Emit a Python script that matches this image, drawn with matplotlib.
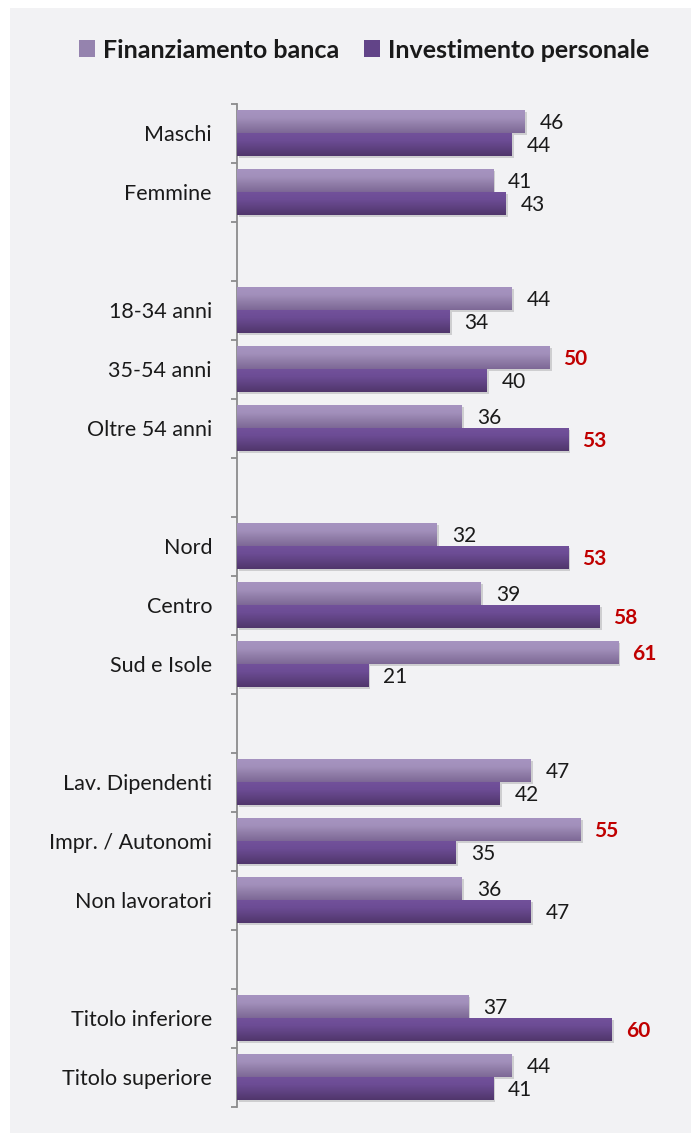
import numpy as np
import matplotlib
matplotlib.use("Agg")
import matplotlib.pyplot as plt
from matplotlib.colors import LinearSegmentedColormap
from matplotlib.patches import Rectangle
import matplotlib.patheffects as pe

plt.rcParams['font.family'] = ['Lato', 'DejaVu Sans']

# data
groups = [["Maschi", "Femmine"],
          ["18-34 anni", "35-54 anni", "Oltre 54 anni"],
          ["Nord", "Centro", "Sud e Isole"],
          ["Lav. Dipendenti", "Impr. / Autonomi", "Non lavoratori"],
          ["Titolo inferiore", "Titolo superiore"]]
banca = [46, 41, 44, 50, 36, 32, 39, 61, 47, 55, 36, 37, 44]
personale = [44, 43, 34, 40, 53, 53, 58, 21, 42, 35, 47, 60, 41]
series_names = ["Finanziamento banca", "Investimento personale"]

# slot positions, one empty slot between groups
labels = []
pos = []
k = 0
for g in groups:
    for name in g:
        labels.append(name)
        pos.append(k)
        k += 1
    k += 1
pos = np.array(pos)
last = pos[-1]

W, H = 691, 1133
fig = plt.figure(figsize=(W / 100, H / 100), dpi=100)
fig.patch.set_facecolor("#F2F2F4")
# white strips top and left
fig.patches.append(Rectangle((0, 1 - 8 / H), 1, 8 / H, transform=fig.transFigure,
                             facecolor="white", edgecolor="none", zorder=-5))
fig.patches.append(Rectangle((0, 0), 10 / W, 1, transform=fig.transFigure,
                             facecolor="white", edgecolor="none", zorder=-5))

ax_l, ax_r = 237, 650
ax_top, ax_bot = 103.5, 1106.5
ax = fig.add_axes([ax_l / W, (H - ax_bot) / H, (ax_r - ax_l) / W, (ax_bot - ax_top) / H])
ax.set_facecolor("none")

pxu = 6.25
xmax = (ax_r - ax_l) / pxu
bh = 23 / 59.0

light_cols = ["#A693C0", "#A290BB", "#8F7CA7", "#7D6896"]
dark_cols = ["#72519B", "#6C4C94", "#5E4180", "#50366B"]
cm_light = LinearSegmentedColormap.from_list("l", light_cols)
cm_dark = LinearSegmentedColormap.from_list("d", dark_cols)
grad = np.linspace(0, 1, 64).reshape(-1, 1)

shadow = [pe.SimplePatchShadow(offset=(1.5, -1.5), shadow_rgbFace="#666666", alpha=0.25), pe.Normal()]
b1 = ax.barh(pos - bh / 2, banca, height=bh, color=light_cols[1], edgecolor="none",
             label=series_names[0], zorder=2, path_effects=shadow)
b2 = ax.barh(pos + bh / 2, personale, height=bh, color=dark_cols[1], edgecolor="none",
             label=series_names[1], zorder=2, path_effects=shadow)

for bars, cm in [(b1, cm_light), (b2, cm_dark)]:
    for r in bars:
        x0, y0, w, h = r.get_x(), r.get_y(), r.get_width(), r.get_height()
        ax.imshow(grad, cmap=cm, aspect="auto", extent=[x0, x0 + w, y0 + h, y0],
                  zorder=3, interpolation="bilinear")

for vals, off in [(banca, -bh / 2 + 0.03), (personale, bh / 2 + 0.03)]:
    for p, v in zip(pos, vals):
        if v >= 50:
            ax.text(v + 2.2, p + off, str(v), color="#C00000", fontweight="bold",
                    fontsize=15, va="center", ha="left", zorder=4)
        else:
            ax.text(v + 2.4, p + off, str(v), color="#1A1A1A",
                    fontsize=15, va="center", ha="left", zorder=4)

ax.set_xlim(0, xmax)
ax.set_ylim(last + 0.5, -0.5)

for s in ["top", "right", "bottom"]:
    ax.spines[s].set_visible(False)
ax.spines["left"].set_color("#8C8C8C")
ax.spines["left"].set_linewidth(1.3)
ax.set_xticks([])
ax.set_yticks(np.arange(-0.5, last + 1, 1))
ax.set_yticklabels([])
ax.tick_params(axis="y", which="major", length=4, width=1.3, color="#8C8C8C", direction="out")
ax.set_yticks(pos, minor=True)
ax.set_yticklabels(labels, minor=True, fontsize=15.5, color="#1A1A1A")
ax.tick_params(axis="y", which="minor", length=0, pad=18)

leg = fig.legend(handles=[b1, b2], labels=series_names, loc="center",
                 bbox_to_anchor=(364 / W, 1 - 50 / H), ncol=2, frameon=False,
                 prop={"weight": "bold", "size": 18}, handlelength=0.65, handleheight=0.65,
                 handletextpad=0.3, columnspacing=1.0)
for t in leg.get_texts():
    t.set_color("#1A1A1A")
for h in leg.legend_handles:
    h.set_path_effects([])
leg.legend_handles[0].set_facecolor("#9583AE")
leg.legend_handles[1].set_facecolor("#624488")

fig.savefig("out.png", dpi=100, facecolor=fig.get_facecolor())
